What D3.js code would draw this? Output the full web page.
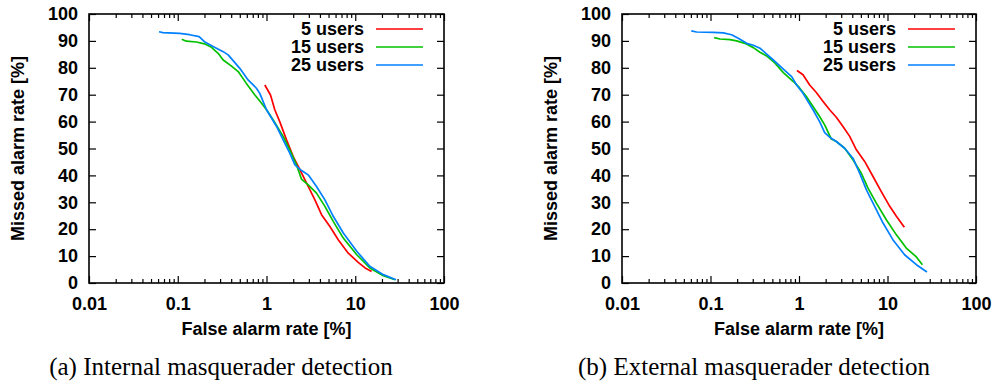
<!DOCTYPE html>
<html>
<head>
<meta charset="utf-8">
<script src="https://cdn.jsdelivr.net/npm/d3@7"></script>
<style>
  html, body { margin: 0; padding: 0; background: #fff; }
  svg { display: block; }
</style>
</head>
<body>
<svg id="viz"></svg>
<script>
  // false alarm rate [%] / missed alarm rate [%] pairs
  const internal5 = [[0.957,73.6],[1.11,69.9],[1.24,64.4],[1.41,60.0],[1.68,53.2],[2.0,47.0],[2.38,42.1],[2.83,37.1],[3.51,30.9],[4.17,25.4],[5.18,21.0],[6.43,16.1],[8.34,11.1],[10.8,7.7],[12.9,5.6],[15.3,4.3]];
  const internal15 = [[0.111,90.6],[0.125,89.9],[0.162,89.6],[0.2,88.9],[0.24,87.6],[0.285,85.4],[0.325,82.9],[0.40,80.7],[0.48,78.6],[0.59,74.3],[0.74,69.9],[0.88,66.8],[1.0,64.4],[1.19,60.6],[1.54,54.5],[1.83,49.5],[2.18,43.9],[2.48,38.6],[2.95,36.5],[3.66,33.4],[4.55,28.5],[5.65,22.9],[7.33,16.7],[10.4,10.5],[14.6,5.6],[20.7,2.7],[28,1.2]];
  const internal25 = [[0.0615,93.4],[0.068,93.1],[0.105,92.8],[0.136,92.3],[0.174,91.6],[0.2,89.7],[0.25,87.9],[0.325,86.0],[0.37,84.8],[0.5,79.8],[0.62,75.5],[0.77,72.4],[0.84,70.5],[1.0,64.4],[1.3,58.2],[1.54,53.2],[1.83,48.3],[2.09,43.9],[2.48,41.8],[2.95,40.2],[3.66,35.9],[4.55,30.9],[5.65,24.8],[7.33,18.6],[10.4,11.8],[14.6,6.2],[20.7,3.1],[28.8,1.2]];

  const external5 = [[0.949,79.0],[1.11,77.4],[1.32,73.6],[1.57,70.8],[1.87,67.5],[2.22,64.4],[2.64,61.6],[3.14,58.2],[3.74,54.5],[4.45,49.5],[5.52,45.2],[6.86,39.6],[8.51,34.0],[10.6,28.5],[12.6,24.8],[15.5,20.7]];
  const external15 = [[0.110,91.2],[0.128,90.7],[0.166,90.5],[0.197,90.0],[0.245,89.1],[0.305,87.5],[0.362,85.8],[0.431,84.4],[0.536,81.7],[0.665,78.2],[0.863,74.9],[1.0,72.8],[1.21,69.3],[1.44,65.6],[1.71,61.9],[1.95,58.8],[2.32,53.5],[2.64,52.6],[3.28,50.1],[4.07,45.8],[5.06,40.8],[6.02,35.3],[7.48,29.7],[9.7,23.5],[12.6,17.9],[16.3,13.0],[21.2,9.7],[24.8,6.8]];
  const external25 = [[0.0607,93.7],[0.0697,93.3],[0.107,93.2],[0.14,93.0],[0.173,92.3],[0.206,91.0],[0.256,89.1],[0.305,88.4],[0.362,87.3],[0.431,85.1],[0.513,82.9],[0.665,79.5],[0.826,76.7],[0.94,73.6],[1.11,70.5],[1.26,67.5],[1.44,64.4],[1.71,60.0],[1.95,55.9],[2.22,54.2],[2.64,52.6],[3.28,50.1],[4.07,46.4],[4.85,40.8],[5.76,34.7],[7.16,28.5],[8.9,22.3],[11.5,16.1],[15.6,10.5],[21.2,6.8],[27.9,4.1]];

  const seriesNames = ['5 users', '15 users', '25 users'];
  const seriesColors = ['#ff0000', '#00c000', '#0080ff'];
  const xTickLabels = [0.01, 0.1, 1, 10, 100];
  const yTickLabels = [0, 10, 20, 30, 40, 50, 60, 70, 80, 90, 100];
  const captions = ['(a) Internal masquerader detection', '(b) External masquerader detection'];

  (function() {
    const panels = [
      { left: 89, right: 444, data: [internal5, internal15, internal25], caption: captions[0] },
      { left: 622, right: 976, data: [external5, external15, external25], caption: captions[1] }
    ];

    const W = 1000, H = 382;
    const plotTop = 14, plotBottom = 283;
    const sans = "'Liberation Sans', Arial, sans-serif";

    const svg = d3.select('#viz').attr('width', W).attr('height', H);

    // minor ticks 2..9 inside each decade
    const minorTicks = [];
    for (let i = 0; i < xTickLabels.length - 1; i++) {
      for (let k = 2; k <= 9; k++) minorTicks.push(xTickLabels[i] * k);
    }

    panels.forEach(p => {
      const x = d3.scaleLog().domain([0.01, 100]).range([p.left, p.right]);
      const y = d3.scaleLinear().domain([0, 100]).range([plotBottom, plotTop]);
      const g = svg.append('g');

      const fmt = d => String(d);

      // bottom / top major + minor ticks, pointing inward
      g.append('g').attr('transform', `translate(0,${plotBottom})`)
        .call(d3.axisBottom(x).tickValues(xTickLabels).tickSize(-7).tickPadding(14).tickFormat(fmt));
      g.append('g').attr('transform', `translate(0,${plotBottom})`)
        .call(d3.axisBottom(x).tickValues(minorTicks).tickSize(-4).tickFormat(''));
      g.append('g').attr('transform', `translate(0,${plotTop})`)
        .call(d3.axisTop(x).tickValues(xTickLabels).tickSize(-7).tickFormat(''));
      g.append('g').attr('transform', `translate(0,${plotTop})`)
        .call(d3.axisTop(x).tickValues(minorTicks).tickSize(-4).tickFormat(''));

      g.append('g').attr('transform', `translate(${p.left},0)`)
        .call(d3.axisLeft(y).tickValues(yTickLabels).tickSize(-7).tickPadding(11).tickFormat(fmt));
      g.append('g').attr('transform', `translate(${p.right},0)`)
        .call(d3.axisRight(y).tickValues(yTickLabels).tickSize(-7).tickFormat(''));

      g.selectAll('.domain').remove();
      g.selectAll('.tick line').attr('stroke', '#000').attr('stroke-width', 1.2);
      g.selectAll('.tick text')
        .style('font-family', sans).style('font-weight', 'bold').style('font-size', '18px').attr('fill', '#000');

      // frame
      g.append('rect')
        .attr('x', p.left).attr('y', plotTop)
        .attr('width', p.right - p.left).attr('height', plotBottom - plotTop)
        .attr('fill', 'none').attr('stroke', '#000').attr('stroke-width', 1.6);

      // curves
      const line = d3.line().x(d => x(d[0])).y(d => y(d[1]));
      p.data.forEach((s, i) => {
        g.append('path').datum(s)
          .attr('d', line)
          .attr('fill', 'none')
          .attr('stroke', seriesColors[i])
          .attr('stroke-width', 1.7)
          .attr('stroke-linejoin', 'round');
      });

      // legend
      seriesNames.forEach((name, i) => {
        const ly = 29 + i * 18;
        g.append('text')
          .attr('x', p.right - 80).attr('y', ly).attr('dy', '0.35em')
          .attr('text-anchor', 'end')
          .style('font-family', sans).style('font-weight', 'bold').style('font-size', '18px')
          .text(name);
        g.append('line')
          .attr('x1', p.right - 68).attr('x2', p.right - 21)
          .attr('y1', ly).attr('y2', ly)
          .attr('stroke', seriesColors[i]).attr('stroke-width', 1.7);
      });

      // axis titles
      g.append('text')
        .attr('transform', `translate(${p.left - 71},${(plotTop + plotBottom) / 2}) rotate(-90)`)
        .attr('dy', '0.35em')
        .attr('text-anchor', 'middle')
        .style('font-family', sans).style('font-weight', 'bold').style('font-size', '18px')
        .text('Missed alarm rate [%]');

      g.append('text')
        .attr('x', (p.left + p.right) / 2).attr('y', 335)
        .attr('text-anchor', 'middle')
        .style('font-family', sans).style('font-weight', 'bold').style('font-size', '18px')
        .text('False alarm rate [%]');

      g.append('text')
        .attr('x', p.left + 132).attr('y', 375)
        .attr('text-anchor', 'middle')
        .style('font-family', "'Liberation Serif', 'Times New Roman', serif").style('font-size', '25px')
        .text(p.caption);
    });
  })();
</script>
</body>
</html>
